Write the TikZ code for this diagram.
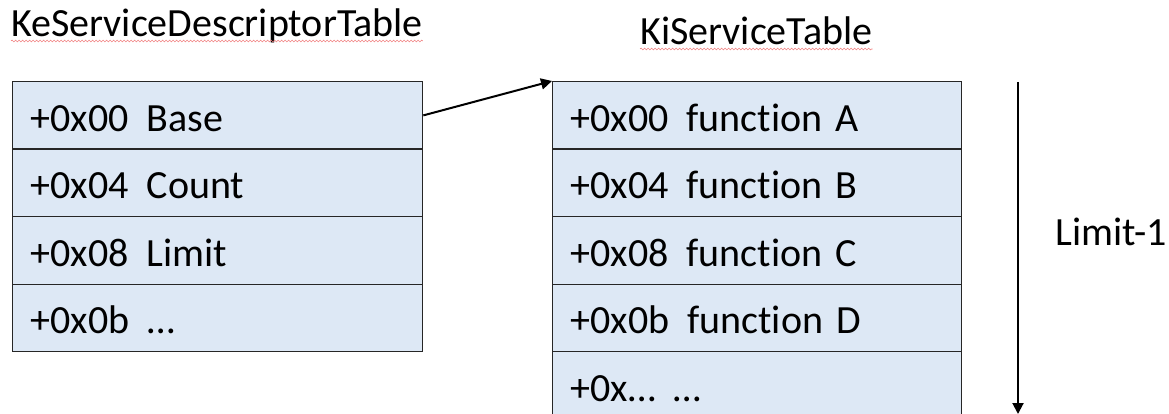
\documentclass[tikz,border=0pt]{standalone}
\usepackage{fontspec}
\setmainfont[Ligatures=NoCommon]{Carlito}
\usetikzlibrary{arrows.meta,decorations.pathmorphing}
\definecolor{cellfill}{HTML}{DDE8F5}
\definecolor{cellline}{HTML}{262626}
\definecolor{spell}{HTML}{F08080}
\begin{document}
\begin{tikzpicture}[x=1pt,y=-1pt,
  every node/.style={font=\fontsize{40}{46}\selectfont},
  cell/.style={draw=cellline,line width=1.3pt,fill=cellfill,
    minimum height=67.5pt,inner xsep=18pt,inner ysep=0pt,
    text height=32pt,text depth=0pt,align=left,anchor=north west},
  leftcell/.style={cell,text width=374pt},
  rightcell/.style={cell,text width=373pt},
  title/.style={anchor=base west,inner sep=0pt},
  arr/.style={line width=2pt,-{Triangle[length=11pt,width=11pt]}},
  wavy/.style={draw=spell,line width=0.6pt,decorate,
    decoration={snake,amplitude=0.9pt,segment length=3.5pt}}]
\clip (0,0) rectangle (1169,414);
\useasboundingbox (0,0) rectangle (1169,414);

% titles
\node[title] (ketitle) at (11,37) {KeServiceDescriptorTable};
\node[title] (kititle) at (640,45) {KiServiceTable};
\draw[wavy] ([yshift=-4pt]ketitle.base west) -- ([yshift=-4pt]ketitle.base east);
\draw[wavy] ([yshift=-4pt]kititle.base west) -- ([yshift=-4pt]kititle.base east);

% left table
\node[leftcell] (k0) at (12,81) {+0x00\hspace{0.45em}Base};
\node[leftcell] (k1) at (12,148.5) {+0x04\hspace{0.45em}Count};
\node[leftcell] (k2) at (12,216) {+0x08\hspace{0.45em}Limit};
\node[leftcell] (k3) at (12,283.5) {+0x0b\hspace{0.45em}\dots};

% right table
\node[rightcell] (f0) at (552,81) {+0x00\hspace{0.45em}function A};
\node[rightcell] (f1) at (552,148.5) {+0x04\hspace{0.45em}function B};
\node[rightcell] (f2) at (552,216) {+0x08\hspace{0.45em}function C};
\node[rightcell] (f3) at (552,283.5) {+0x0b\hspace{0.45em}function D};
\node[rightcell] (f4) at (552,351) {+0x\dots\hspace{0.45em}\dots};

% pointer arrow
\draw[arr] (k0.east) -- (f0.north west);

% limit arrow
\coordinate (ltop) at (1018,82);
\coordinate (lbot) at (1018,414);
\draw[arr] (ltop) -- (lbot);
\node[title] (limit) at (1055,245) {Limit-1};
\end{tikzpicture}
\end{document}
